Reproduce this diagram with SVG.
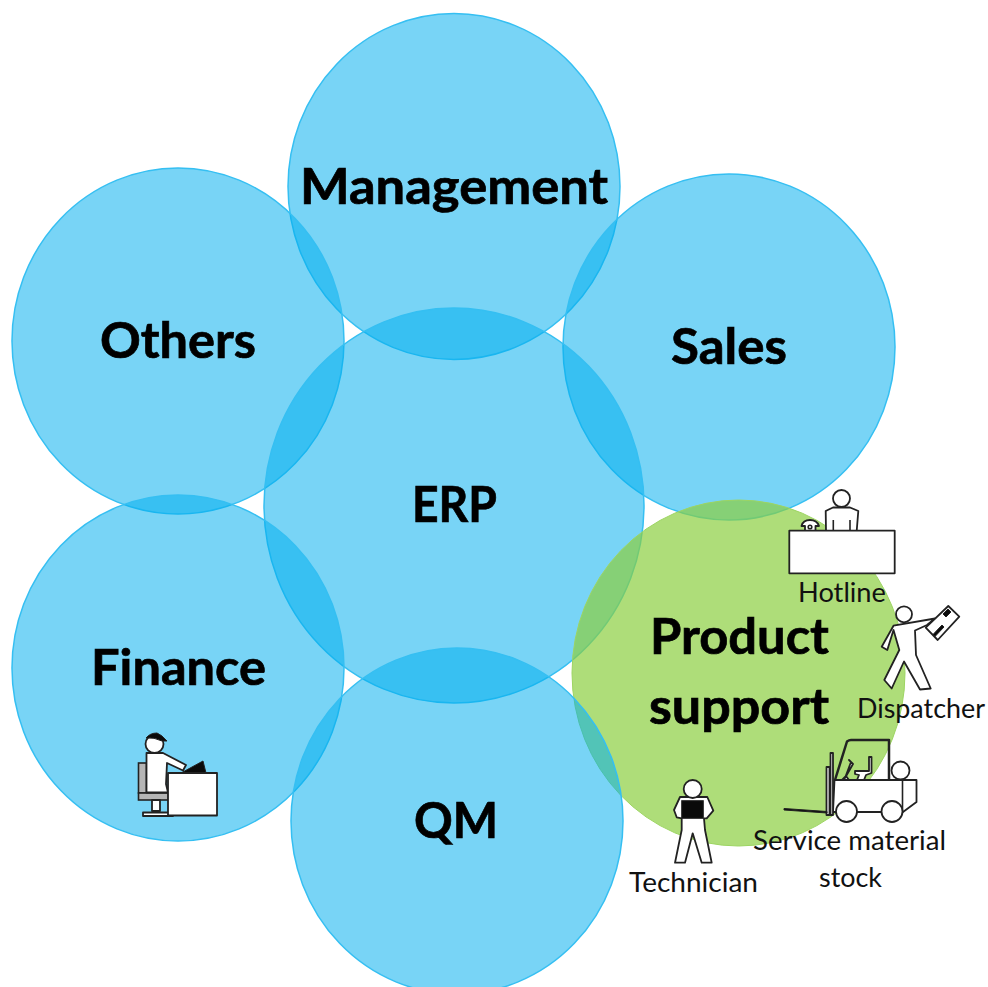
<svg xmlns="http://www.w3.org/2000/svg" width="988" height="987" viewBox="0 0 988 987">
<style>
.c{fill:#00adee;fill-opacity:.53;stroke:#35bff2;stroke-width:1.5}
.g{fill:#8bce40;fill-opacity:.7;stroke:#9dd562;stroke-width:1}
.b{font-family:Lato,"Liberation Sans",sans-serif;font-weight:700;font-size:50.500px;fill:#000;stroke:#000;stroke-width:.7;text-anchor:middle}
.s{font-family:Lato,"Liberation Sans",sans-serif;font-size:27px;fill:#111;text-anchor:middle}
.i{fill:#fff;stroke:#222;stroke-width:1.8;stroke-linejoin:round}
.l{fill:none;stroke:#222;stroke-width:1.6}
.k{fill:#0a0a0a;stroke:#222;stroke-width:1}
.y{fill:#b5b5b5;stroke:#222;stroke-width:1.6}
</style>
<rect width="988" height="987" fill="#fff"/>
<g id="connectors"/>
<g id="node-management"><ellipse class="c" cx="454" cy="186.500" rx="166" ry="173"/></g>
<g id="node-others"><ellipse class="c" cx="178" cy="341" rx="166" ry="173"/></g>
<g id="node-sales"><ellipse class="c" cx="729" cy="347" rx="166" ry="173"/></g>
<g id="node-erp"><ellipse class="c" cx="454" cy="505.500" rx="190" ry="197.500"/></g>
<g id="node-finance"><ellipse class="c" cx="178" cy="668" rx="166" ry="173"/></g>
<g id="node-product-support"><ellipse class="g" cx="738.500" cy="673" rx="166.500" ry="173"/></g>
<g id="node-qm"><ellipse class="c" cx="457" cy="821" rx="166" ry="173"/></g>
<g id="labels">
<text class="b" x="454" y="204" textLength="308" lengthAdjust="spacingAndGlyphs">Management</text>
<text class="b" x="178" y="358" textLength="156" lengthAdjust="spacingAndGlyphs">Others</text>
<text class="b" x="729" y="364" textLength="116" lengthAdjust="spacingAndGlyphs">Sales</text>
<text class="b" x="454.500" y="522" textLength="85" lengthAdjust="spacingAndGlyphs">ERP</text>
<text class="b" x="178.500" y="685" textLength="175" lengthAdjust="spacingAndGlyphs">Finance</text>
<text class="b" x="456" y="838" textLength="84" lengthAdjust="spacingAndGlyphs">QM</text>
<text class="b" x="739.500" y="654" textLength="179" lengthAdjust="spacingAndGlyphs">Product</text>
<text class="b" x="739" y="724" textLength="180" lengthAdjust="spacingAndGlyphs">support</text>
</g>
<g id="icon-finance-worker">
<rect class="y" x="138.500" y="763" width="8" height="30"/>
<rect class="y" x="138.500" y="793" width="30" height="7"/>
<path class="i" d="M152 800V811H160V800Z"/>
<rect class="i" x="143" y="812.500" width="30" height="3.500"/>
<path class="i" d="M146.500 753L163 753L186 765L183 770.500L167 763L166 784L168 792.500L146.500 792.500Z"/>
<circle class="i" cx="154.500" cy="744" r="9"/>
<path class="k" d="M146 738Q150 733 157 733Q162 735 167 741L162 741Q154 737 146 738Z"/>
<path class="k" d="M181 773L203 761L206 773Z"/>
<rect class="i" x="168" y="773" width="49" height="42.500"/>
</g>
<g id="node-hotline">
<circle class="i" cx="841.500" cy="498.500" r="8.500"/>
<path class="i" d="M826 531L825.700 511L833 507.500H850L858.300 511L856.700 531Z"/>
<path class="l" d="M833.300 520V530M850 520V530"/>
<path class="i" d="M801.500 526Q803 520 810 520Q817 520 819 526H815.500V531H805V526Z"/>
<circle class="l" cx="810" cy="527" r="1.800"/>
<rect class="i" x="789.300" y="530.700" width="105.400" height="42.600"/>
<text class="s" x="842" y="602" textLength="88" lengthAdjust="spacingAndGlyphs">Hotline</text>
</g>
<g id="node-dispatcher">
<path class="i" d="M893.500 625.700L935 618.500L927 625L915 630.500L916 655L930.700 688.500L920 689.500L904 661.500L891.700 688.500L884.300 680L899.300 650L893.500 630L887.300 650L881.700 646.700Z"/>
<circle class="i" cx="904" cy="614.300" r="8"/>
<path class="i" d="M948.300 606L959.300 616.700L937.700 640L925.700 627.700Z"/>
<path class="k" d="M942 625L944 627L935 636.500L933 634.500Z"/>
<path class="k" d="M948 609L951 612L946 617L943 614Z"/>
<text class="s" x="921" y="718" textLength="128" lengthAdjust="spacingAndGlyphs">Dispatcher</text>
</g>
<g id="node-stock">
<path class="i" d="M835 780L847 741.500Q849 740 851 740H889V780" style="fill:none;stroke-width:2.500"/>
<path class="i" d="M834.500 780H916.500V802L903 812H833Z"/>
<path class="l" d="M902.500 781V811"/>
<rect class="i" x="826.500" y="767" width="3" height="48"/>
<rect class="i" x="830.500" y="753" width="2.500" height="62"/>
<path class="k" d="M784 808.500L827 811.500V813L784 810Z"/>
<circle class="i" cx="846.500" cy="811.500" r="10.500"/>
<circle class="i" cx="892" cy="811.500" r="10.500"/>
<circle class="i" cx="900.500" cy="770.500" r="9"/>
<path class="i" d="M855 771H869V757H871.500V773L866 775L864 780H857L859 775L855 774Z"/>
<path class="i" d="M846 776L849 780H842ZM845 778L851 762L849 760L853 764Z"/>
<text class="s" x="849.500" y="850" textLength="193" lengthAdjust="spacingAndGlyphs">Service material</text>
<text class="s" x="850.500" y="887" textLength="63" lengthAdjust="spacingAndGlyphs">stock</text>
</g>
<g id="node-technician">
<path class="i" d="M680 797H707.300L713.300 810.700L706.700 818.300H704L705 830L711.700 862.700H701.700L692.700 833.300L685 862.700H675L681.700 830L681.700 818.300L676.700 817.300L674 810Z"/>
<circle class="i" cx="692.700" cy="789" r="9"/>
<rect class="k" x="681.700" y="800.700" width="21.600" height="17.600"/>
<text class="s" x="693.500" y="892" textLength="129" lengthAdjust="spacingAndGlyphs">Technician</text>
</g>
</svg>
